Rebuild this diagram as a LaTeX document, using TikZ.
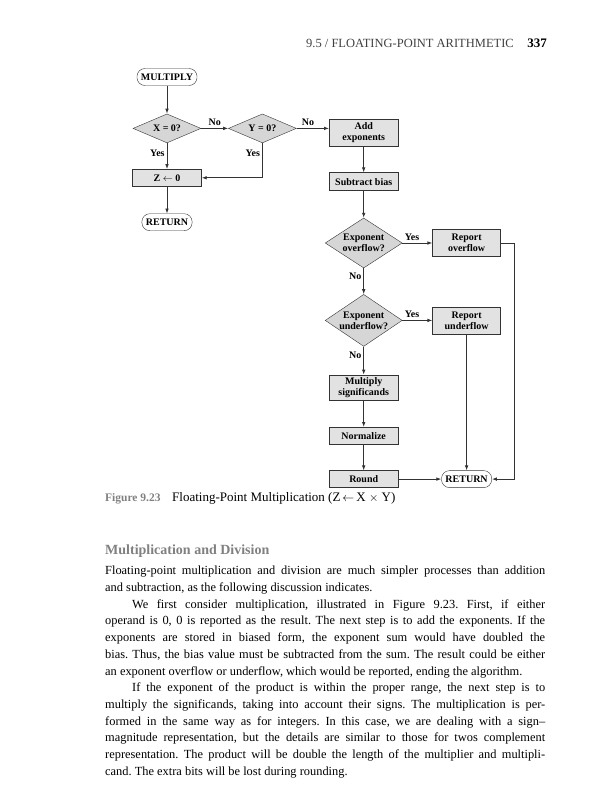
\documentclass[tikz,border=0pt]{standalone}
\usepackage{fontspec}
\setmainfont{Liberation Serif}
\usetikzlibrary{arrows.meta,positioning,shapes.geometric}
\definecolor{boxgray}{HTML}{E2E2E2}
\definecolor{diagray}{HTML}{D6D6D6}
\definecolor{linegray}{HTML}{333333}
\definecolor{headgray}{HTML}{808080}

\begin{document}
\begin{tikzpicture}[
    x=1pt, y=-1pt,
    font=\fontsize{10}{11}\selectfont\bfseries,
    proc/.style={draw=linegray, fill=boxgray, align=center, inner sep=1pt,
      minimum width=69pt, minimum height=17pt},
    decision/.style={diamond, draw=linegray, fill=diagray, align=center,
      inner xsep=-6pt, inner ysep=-3pt, aspect=1.5},
    terminal/.style={draw=linegray, fill=white, rounded corners=8pt,
      minimum height=17pt, inner xsep=4pt, inner ysep=1pt},
    arrow/.style={-{Latex[length=5pt, width=3.6pt]}, draw=linegray, line width=0.8pt},
    lbl/.style={font=\fontsize{10}{11}\selectfont\bfseries, inner sep=2pt}
  ]
    \useasboundingbox (0,0) rectangle (604,800);

    % running head
    \node[anchor=base east, inner sep=0pt, text=black!75, font=\normalfont\fontsize{12.5}{14}\selectfont] (runhead) at (514,48) {9.5 / FLOATING-POINT ARITHMETIC};
    \node[anchor=base east, inner sep=0pt, font=\normalfont\fontsize{13}{15}\selectfont\bfseries] (pagenum) at (547,48) {337};

    % left column
    \node[terminal] (multiply) at (167,77) {MULTIPLY};
    \node[decision, minimum width=68pt, minimum height=29pt, below=28pt of multiply] (xzero) {X = 0?};
    \node[decision, minimum width=68pt, minimum height=29pt, right=27pt of xzero] (yzero) {Y = 0?};
    \node[proc, below=26pt of xzero] (zset) {Z $\leftarrow$ 0};
    \node[terminal, below=27pt of zset] (retleft) {RETURN};

    % right column
    \node[proc, minimum height=27pt, anchor=north west] (addexp) at (329,119) {Add\\exponents};
    \node[proc, minimum height=18pt, below=26pt of addexp] (subbias) {Subtract bias};
    \node[decision, minimum width=77pt, minimum height=50pt, below=27pt of subbias] (ovf) {Exponent\\overflow?};
    \node[proc, minimum width=68pt, minimum height=27pt, right=30pt of ovf] (repovf) {Report\\overflow};
    \node[decision, minimum width=77pt, minimum height=52pt, below=26pt of ovf] (unf) {Exponent\\underflow?};
    \node[proc, minimum width=68pt, minimum height=27pt, right=30pt of unf] (repunf) {Report\\underflow};
    \node[proc, minimum height=25pt, below=28pt of unf] (multsig) {Multiply\\significands};
    \node[proc, below=27pt of multsig] (normalize) {Normalize};
    \node[proc, below=26pt of normalize] (round) {Round};
    \node[terminal] (retright) at (repunf |- round) {RETURN};

    \draw[arrow] (multiply) -- (xzero);
    \draw[arrow] (xzero) -- node[lbl, above] {No} (yzero);
    \draw[arrow] (yzero.east) -- node[lbl, above, pos=0.35] {No} (yzero.east -| addexp.west);
    \draw[arrow] (xzero) -- node[lbl, left, pos=0.38] {Yes} (zset);
    \draw[arrow] (yzero.south) |- node[lbl, left, pos=0.15] {Yes} (zset.east);
    \draw[arrow] (zset) -- (retleft);

    \draw[arrow] (addexp) -- (subbias);
    \draw[arrow] (subbias) -- (ovf);
    \draw[arrow] (ovf) -- node[lbl, above, pos=0.32] {Yes} (repovf);
    \draw[arrow] (ovf) -- node[lbl, left, pos=0.3] {No} (unf);
    \draw[arrow] (unf) -- node[lbl, above, pos=0.32] {Yes} (repunf);
    \draw[arrow] (unf) -- node[lbl, left, pos=0.3] {No} (multsig);
    \draw[arrow] (multsig) -- (normalize);
    \draw[arrow] (normalize) -- (round);
    \draw[arrow] (round) -- (retright);
    \draw[arrow] (repunf) -- (retright);
    \draw[arrow] (repovf.east) -- ++(14pt,0) |- (retright.east);

    % caption
    \node[anchor=base west, inner sep=0pt, text=headgray, font=\normalfont\fontsize{11.5}{13}\selectfont\bfseries] (figno) at (105,501) {Figure 9.23};
    \node[anchor=base west, inner sep=0pt, font=\normalfont\fontsize{13}{15}\selectfont] (caption) at (172,501) {Floating-Point Multiplication (Z$\,\leftarrow\,$X $\times$ Y)};

    % section heading and text
    \node[anchor=base west, inner sep=0pt, text=headgray, font=\normalfont\fontsize{14}{16}\selectfont\bfseries] (heading) at (105,554) {Multiplication and Division};
    \node[anchor=north west, text width=440pt, align=justify, inner sep=0pt,
      font=\normalfont\fontsize{12.4}{16.7}\selectfont] (body) at (105,566)
      {\frenchspacing\hbadness=10000 \hfuzz=20pt
       Floating-point multiplication and division are much simpler processes than addition\linebreak
       and subtraction, as the following discussion indicates.\par
       \hspace*{27pt}We first consider multiplication, illustrated in Figure 9.23. First, if either\linebreak
       operand is 0, 0 is reported as the result. The next step is to add the exponents. If the\linebreak
       exponents are stored in biased form, the exponent sum would have doubled the\linebreak
       bias. Thus, the bias value must be subtracted from the sum. The result could be either\linebreak
       an exponent overflow or underflow, which would be reported, ending the algorithm.\par
       \hspace*{27pt}If the exponent of the product is within the proper range, the next step is to\linebreak
       multiply the significands, taking into account their signs. The multiplication is per-\linebreak
       formed in the same way as for integers. In this case, we are dealing with a sign--\linebreak
       magnitude representation, but the details are similar to those for twos complement\linebreak
       representation. The product will be double the length of the multiplier and multipli-\linebreak
       cand. The extra bits will be lost during rounding.\par};
  \end{tikzpicture}
\end{document}
